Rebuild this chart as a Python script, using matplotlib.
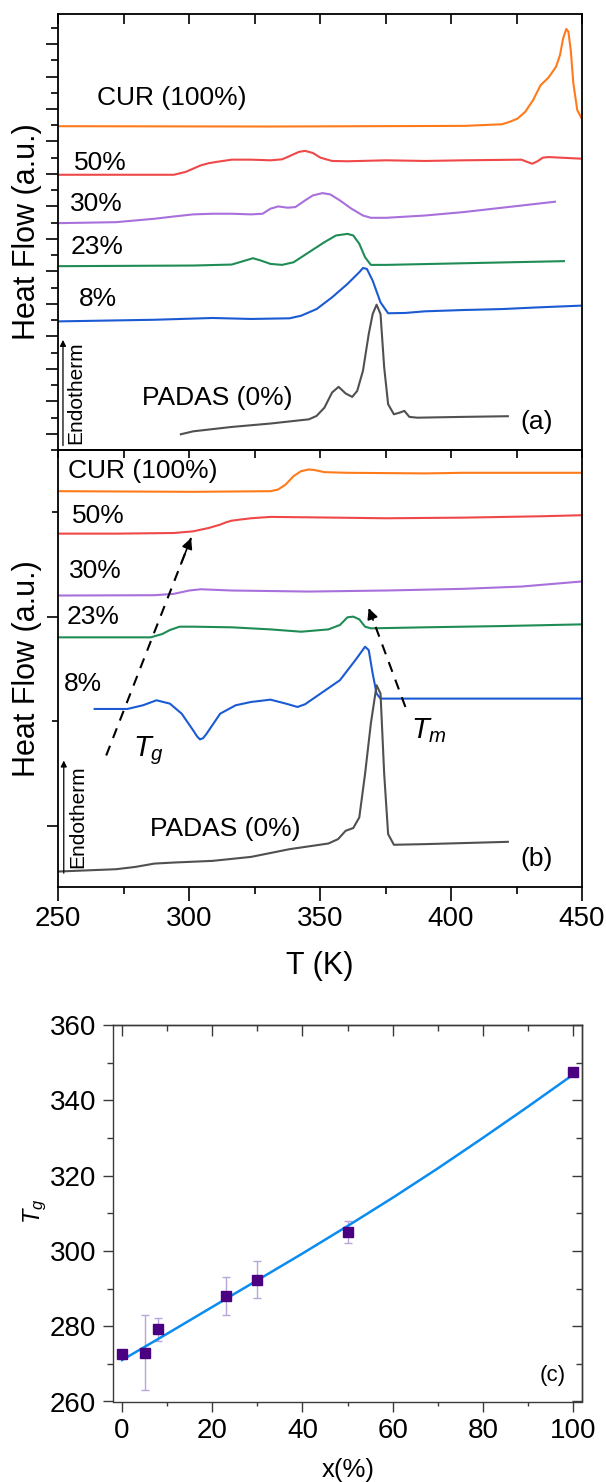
import matplotlib
matplotlib.use('Agg')
import matplotlib.pyplot as plt
from matplotlib.ticker import MultipleLocator, FixedLocator

plt.rcParams['font.family'] = ['Liberation Sans', 'DejaVu Sans']
plt.rcParams['mathtext.fontset'] = 'custom'
plt.rcParams['mathtext.rm'] = 'Liberation Sans'
plt.rcParams['mathtext.it'] = 'Liberation Sans:italic'

# ---------------- data: panel (a) heating curves ----------------
cur_a_T = [250, 330, 405, 419.5, 422.4, 425.4, 428.3, 431.3, 434.2, 437.2, 440.1, 441.6, 442.8, 444.0, 444.8, 445.7, 446.7, 448.2, 449.7]
cur_a_H = [19.94, 19.92, 19.96, 20.06, 20.21, 20.41, 20.82, 21.54, 22.47, 22.93, 23.60, 24.32, 25.35, 25.93, 25.76, 24.63, 22.57, 20.93, 20.47]

p50_a_T = [250, 294.2, 298.6, 301.5, 304.5, 307.5, 310.4, 316.3, 323.7, 331.1, 335.5, 337.7, 339.9, 342.0, 344.3, 347.3, 350.2, 354.6, 360.5, 375.3, 390, 404.7, 426.9, 429.1, 431, 433, 435, 437.2, 449.7]
p50_a_H = [16.95, 16.95, 17.12, 17.32, 17.53, 17.66, 17.74, 17.88, 17.88, 17.84, 17.90, 18.05, 18.21, 18.36, 18.42, 18.29, 18.00, 17.80, 17.78, 17.84, 17.80, 17.84, 17.88, 17.74, 17.63, 17.78, 18.00, 18.04, 17.94]

p30_a_T = [250, 272.1, 286.8, 294.2, 301.6, 309, 316.3, 323.7, 328.1, 331.1, 334, 337.7, 340.6, 344.3, 347.3, 351, 353.9, 357.6, 362, 366.4, 369.4, 375.3, 390, 404.7, 419.5, 439.7]
p30_a_H = [13.97, 14.03, 14.24, 14.38, 14.51, 14.55, 14.55, 14.51, 14.55, 14.86, 15.0, 14.92, 14.96, 15.37, 15.68, 15.82, 15.74, 15.37, 14.86, 14.44, 14.30, 14.30, 14.44, 14.65, 14.92, 15.29]

p23_a_T = [250, 301.6, 316.3, 320.7, 324.4, 327.4, 331.1, 335.5, 339.9, 345.8, 351.7, 356.1, 360.5, 362.7, 365, 367.2, 369.4, 375.3, 404.7, 443.1]
p23_a_H = [11.32, 11.36, 11.42, 11.63, 11.81, 11.67, 11.46, 11.40, 11.56, 12.18, 12.80, 13.21, 13.31, 13.21, 12.70, 11.87, 11.40, 11.40, 11.50, 11.63]

p8_a_T = [250, 286.8, 309, 323.7, 338.4, 342.8, 348.7, 354.6, 360.5, 365, 366.4, 367.9, 370.1, 373.1, 376, 382.6, 390, 404.7, 419.5, 434.2, 449.7]
p8_a_H = [7.92, 8.02, 8.13, 8.07, 8.11, 8.27, 8.68, 9.40, 10.23, 10.95, 11.21, 11.15, 10.43, 9.09, 8.42, 8.44, 8.54, 8.62, 8.68, 8.79, 8.89]

p0_a_T = [296.9, 301.6, 316.3, 331.1, 345.8, 348.7, 351.7, 354.6, 357.1, 359.8, 362.3, 364.2, 366.4, 368.6, 370.1, 371.6, 373.1, 374.5, 376, 378.2, 380.4, 382.2, 384.1, 387.1, 404.7, 421.7]
p0_a_H = [0.97, 1.15, 1.42, 1.63, 1.89, 2.10, 2.61, 3.54, 3.89, 3.48, 3.27, 3.64, 4.88, 7.14, 8.37, 8.95, 8.37, 5.08, 2.82, 2.20, 2.30, 2.41, 2.04, 1.99, 2.04, 2.08]

# ---------------- data: panel (b) curves ----------------
cur_b_T = [250, 301.6, 331.1, 334, 336.9, 339.9, 342.8, 345.8, 348, 351.7, 360.5, 375.3, 390, 404.7, 449.7]
cur_b_H = [42.0, 41.94, 42.0, 42.16, 42.64, 43.44, 43.92, 44.08, 44.02, 43.82, 43.76, 43.73, 43.70, 43.76, 43.76]

p50_b_T = [250, 272.1, 294.2, 301.6, 304.5, 307.5, 311.9, 314.1, 316.3, 319.3, 323.7, 331.1, 345.8, 375.3, 404.7, 434.2, 449.7]
p50_b_H = [37.94, 37.94, 38.0, 38.16, 38.32, 38.48, 38.8, 39.02, 39.18, 39.28, 39.41, 39.54, 39.50, 39.41, 39.47, 39.60, 39.70]

p30_b_T = [250, 286.8, 294.2, 300.1, 304.5, 316.3, 345.8, 375.3, 404.7, 426.9, 449.7]
p30_b_H = [32.02, 32.05, 32.18, 32.50, 32.62, 32.50, 32.40, 32.50, 32.66, 32.88, 33.36]

p23_b_T = [250, 285.4, 289.8, 292.7, 296.4, 301.6, 316.3, 331.1, 342.8, 353.2, 357.6, 360.5, 362.7, 365, 367.2, 369.4, 390, 419.5, 449.7]
p23_b_H = [28.02, 28.02, 28.34, 28.72, 29.04, 29.04, 28.98, 28.78, 28.56, 28.78, 29.2, 29.94, 30.0, 29.74, 29.04, 28.88, 28.98, 29.1, 29.26]

p8_b_T = [264, 276.5, 282.4, 287.6, 292.7, 297.2, 301.6, 303.1, 304.2, 305.4, 306.7, 311.9, 317.8, 323.7, 331.1, 337, 341.4, 344.3, 350.2, 357.6, 363.5, 367.2, 368.6, 370.1, 371.6, 373.1, 390, 419.5, 449.7]
p8_b_H = [21.17, 21.17, 21.52, 22.0, 21.68, 20.72, 19.12, 18.54, 18.26, 18.38, 18.8, 20.72, 21.52, 21.84, 22.06, 21.68, 21.36, 21.62, 22.64, 23.92, 25.84, 27.12, 26.8, 24.56, 22.64, 22.16, 22.16, 22.16, 22.16]

p0_b_T = [250, 272.1, 279.5, 286.8, 294.2, 309, 323.7, 338.4, 353.2, 356.9, 359.8, 362.7, 365, 367.2, 369.4, 371.6, 373.1, 374.5, 376, 378.2, 390, 421.7]
p0_b_H = [5.62, 5.84, 6.06, 6.38, 6.48, 6.64, 7.02, 7.76, 8.30, 8.72, 9.52, 9.78, 10.8, 14.96, 19.76, 23.44, 22.64, 14.96, 9.2, 8.18, 8.24, 8.46]

# ---------------- data: panel (c) ----------------
x_pct = [0, 5, 8, 23, 30, 50, 100]
tg_vals = [272.5, 273.0, 279.2, 288.0, 292.4, 305.0, 347.6]
tg_err = [0.0, 10.0, 3.0, 5.0, 5.0, 3.0, 1.0]
fit_x = [0, 10, 20, 30, 40, 50, 60, 70, 80, 90, 100]
fit_y = [271.0, 278.0, 285.1, 292.2, 299.3, 306.6, 314.1, 321.9, 330.0, 338.3, 346.8]

# labels
comp_labels = ['CUR (100%)', '50%', '30%', '23%', '8%', 'PADAS (0%)']
colors = ['#FF7A1A', '#F04848', '#A870DC', '#1F8C55', '#1A5AD2', '#505050']

W, H = 606, 1482
fig = plt.figure(figsize=(W / 100, H / 100), dpi=100)


def box(l, t, r, b):
    return [l / W, 1 - b / H, (r - l) / W, (b - t) / H]


axA = fig.add_axes(box(58, 14, 582, 450))
axB = fig.add_axes(box(58, 450, 582, 887))
axC = fig.add_axes(box(113, 1025, 582, 1401.5))

LW = 1.5
FS = 19

# ---- panel (a)
a_series = [(cur_a_T, cur_a_H), (p50_a_T, p50_a_H), (p30_a_T, p30_a_H),
            (p23_a_T, p23_a_H), (p8_a_T, p8_a_H), (p0_a_T, p0_a_H)]
for (t, h), c in zip(a_series, colors):
    axA.plot(t, h, color=c, lw=LW, solid_joinstyle='round')
axA.set_xlim(250, 450)
axA.set_ylim(0, 26.85)
axA.xaxis.set_major_locator(MultipleLocator(25))
axA.tick_params(axis='x', which='both', bottom=False, top=True, labelbottom=False,
                direction='in', length=7, width=1.2)
axA.yaxis.set_major_locator(FixedLocator(list(range(1, 27, 2))))
axA.yaxis.set_minor_locator(FixedLocator(list(range(0, 27, 2))))
axA.tick_params(axis='y', which='major', direction='out', length=9, width=1.2, labelleft=False)
axA.tick_params(axis='y', which='minor', direction='out', length=5, width=1.2)
a_label_pos = [(264.7, 21.65), (255.9, 17.70), (254.4, 15.16), (254.9, 12.49), (258.1, 9.30), (282.1, 3.23)]
for lab, (x, y) in zip(comp_labels, a_label_pos):
    axA.text(x, y, lab, fontsize=FS, ha='left', va='center')
axA.text(426.5, 1.75, '(a)', fontsize=FS, ha='left', va='center')
axA.text(256.8, 0.35, 'Endotherm', fontsize=15, rotation=90, ha='center', va='bottom')
axA.annotate('', xy=(251.9, 6.95), xytext=(251.9, 0.1),
             arrowprops=dict(arrowstyle='-|>', lw=0.9, color='k', mutation_scale=9))

# ---- panel (b)
b_series = [(cur_b_T, cur_b_H), (p50_b_T, p50_b_H), (p30_b_T, p30_b_H),
            (p23_b_T, p23_b_H), (p8_b_T, p8_b_H), (p0_b_T, p0_b_H)]
for (t, h), c in zip(b_series, colors):
    axB.plot(t, h, color=c, lw=LW, solid_joinstyle='round')
axB.set_xlim(250, 450)
axB.set_ylim(4.14, 45.94)
axB.xaxis.set_major_locator(MultipleLocator(50))
axB.xaxis.set_minor_locator(MultipleLocator(25))
axB.tick_params(axis='x', which='major', direction='out', length=10, width=1.2,
                labelsize=20, pad=4)
axB.tick_params(axis='x', which='minor', direction='out', length=5, width=1.2)
axB.yaxis.set_major_locator(FixedLocator([10, 30]))
axB.yaxis.set_minor_locator(FixedLocator([20, 40]))
axB.tick_params(axis='y', which='major', direction='out', length=8, width=1.2, labelleft=False)
axB.tick_params(axis='y', which='minor', direction='out', length=4, width=1.2)
secB = axB.secondary_xaxis('top')
secB.xaxis.set_major_locator(MultipleLocator(25))
secB.tick_params(axis='x', direction='in', length=6, width=1.2, labeltop=False)
b_label_pos = [(253.7, 43.92), (255.2, 39.66), (254.1, 34.32), (253.2, 30.0), (252.2, 23.6), (285.1, 9.68)]
for lab, (x, y) in zip(comp_labels, b_label_pos):
    axB.text(x, y, lab, fontsize=FS, ha='left', va='center')
axB.text(426.5, 6.85, '(b)', fontsize=FS, ha='left', va='center')
axB.text(257.6, 6.0, 'Endotherm', fontsize=15, rotation=90, ha='center', va='bottom')
axB.annotate('', xy=(252.2, 16.5), xytext=(252.2, 5.2),
             arrowprops=dict(arrowstyle='-|>', lw=0.9, color='k', mutation_scale=9))
# dashed guide arrows
tg_arrow = [(268.4, 16.72), (300.8, 37.52)]
tm_arrow = [(382.6, 21.36), (368.6, 30.8)]
for (x0, y0), (x1, y1) in (tg_arrow, tm_arrow):
    axB.plot([x0, x1], [y0, y1], ls=(0, (5, 4)), color='k', lw=1.5)
    axB.annotate('', xy=(x1, y1), xytext=(x1 - (x1 - x0) * 0.12, y1 - (y1 - y0) * 0.12),
                 arrowprops=dict(arrowstyle='-|>', lw=1.2, color='k', mutation_scale=16,
                                 shrinkA=0, shrinkB=0))
axB.text(278.5, 17.2, '$T_g$', fontsize=21, ha='left', va='center')
axB.text(384.8, 19.1, '$T_m$', fontsize=21, ha='left', va='center')

for ax in (axA, axB):
    for s in ax.spines.values():
        s.set_linewidth(1.3)
for s in secB.spines.values():
    s.set_linewidth(1.3)

fig.text(27 / W, 1 - 232 / H, 'Heat Flow (a.u.)', rotation=90, ha='center', va='center', fontsize=22)
fig.text(27 / W, 1 - 669 / H, 'Heat Flow (a.u.)', rotation=90, ha='center', va='center', fontsize=22)
fig.text(320 / W, 1 - 966 / H, 'T (K)', ha='center', va='center', fontsize=22)

# ---- panel (c)
axC.errorbar(x_pct, tg_vals, yerr=tg_err, fmt='none', ecolor='#B6A6DA', elinewidth=1.0,
             capsize=3, capthick=1.0, zorder=2)
axC.plot(fit_x, fit_y, color='#0A8CF0', lw=1.8, zorder=3)
axC.plot(x_pct, tg_vals, ls='none', marker='s', ms=6.5, color='#4B0082', zorder=4)
axC.set_xlim(-2, 102)
axC.set_ylim(260, 360)
axC.xaxis.set_major_locator(MultipleLocator(20))
axC.xaxis.set_minor_locator(MultipleLocator(10))
axC.yaxis.set_major_locator(MultipleLocator(20))
axC.yaxis.set_minor_locator(MultipleLocator(10))
spc = '#3A3A3A'
axC.tick_params(axis='both', which='major', direction='out', length=7, width=1.0,
                color=spc, labelsize=20, pad=5)
axC.tick_params(axis='y', which='minor', direction='out', length=4, width=1.0, color=spc)
axC.tick_params(axis='x', which='minor', direction='out', length=3, width=1.0, color=spc)
for s in axC.spines.values():
    s.set_color(spc)
    s.set_linewidth(1.0)
secCx = axC.secondary_xaxis('top')
secCx.xaxis.set_major_locator(MultipleLocator(20))
secCx.xaxis.set_minor_locator(MultipleLocator(10))
secCx.tick_params(axis='x', which='major', direction='in', length=8, width=1.0, color=spc, labeltop=False)
secCx.tick_params(axis='x', which='minor', direction='in', length=4, width=1.0, color=spc)
secCy = axC.secondary_yaxis('right')
secCy.yaxis.set_major_locator(MultipleLocator(20))
secCy.yaxis.set_minor_locator(MultipleLocator(10))
secCy.tick_params(axis='y', which='major', direction='in', length=7, width=1.0, color=spc, labelright=False)
secCy.tick_params(axis='y', which='minor', direction='in', length=4, width=1.0, color=spc)
for sec in (secCx, secCy):
    for s in sec.spines.values():
        s.set_color(spc)
        s.set_linewidth(1.0)
axC.text(92.5, 267.0, '(c)', fontsize=16, ha='left', va='center')
fig.text(35 / W, 1 - 1211 / H, '$T_g$', rotation=90, ha='center', va='center', fontsize=17)
fig.text(348 / W, 1 - 1470 / H, 'x(%)', ha='center', va='center', fontsize=18.5)

fig.savefig('out.png', dpi=100)
